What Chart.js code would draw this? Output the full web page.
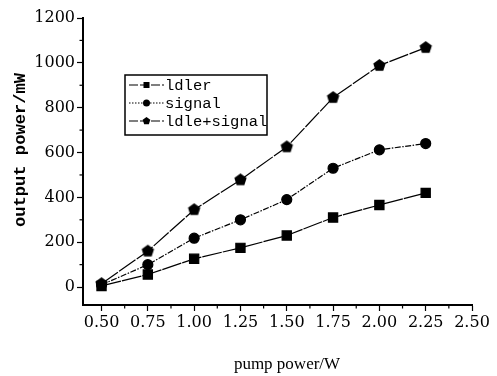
<!DOCTYPE html>
<html><head><meta charset="utf-8">
<script src="https://cdn.jsdelivr.net/npm/chart.js@4/dist/chart.umd.min.js"></script>
<style>html,body{margin:0;padding:0;background:#fff;}canvas{display:block;}</style>
</head><body>
<canvas id="c" width="497" height="376"></canvas>
<script>
const pumpPower = [0.50, 0.75, 1.00, 1.25, 1.50, 1.75, 2.00, 2.25];
const idler = [5, 56, 126, 175, 230, 310, 366, 420];
const signal = [10, 100, 218, 300, 390, 530, 612, 640];
const idleSignal = [15, 160, 345, 478, 625, 845, 988, 1068];
const seriesNames = ['ldler', 'signal', 'ldle+signal'];
const xTitle = 'pump power/W';
const yTitle = 'output power/mW';

function pentagon(r) {
  const c = document.createElement('canvas');
  const s = Math.ceil(r * 2 + 2);
  c.width = s; c.height = s;
  const g = c.getContext('2d');
  g.fillStyle = '#000';
  g.beginPath();
  for (let i = 0; i < 5; i++) {
    const a = -Math.PI / 2 + i * 2 * Math.PI / 5;
    const px = s / 2 + r * Math.cos(a), py = s / 2 + r * Math.sin(a);
    i ? g.lineTo(px, py) : g.moveTo(px, py);
  }
  g.closePath(); g.fill();
  return c;
}
const pentBig = pentagon(6.5);

const pts = arr => pumpPower.map((x, i) => ({x, y: arr[i]}));

const decor = {
  id: 'decor',
  afterDraw(chart) {
    const ctx = chart.ctx, xs = chart.scales.x, ys = chart.scales.y;
    ctx.save();
    ctx.strokeStyle = '#000'; ctx.lineWidth = 1.2;
    for (let v = 100; v < 1200; v += 200) {
      const py = ys.getPixelForValue(v);
      ctx.beginPath(); ctx.moveTo(xs.left - 3.5, py); ctx.lineTo(xs.left, py); ctx.stroke();
    }
    for (let v = 0.625; v < 2.5; v += 0.25) {
      const px = xs.getPixelForValue(v);
      ctx.beginPath(); ctx.moveTo(px, ys.bottom); ctx.lineTo(px, ys.bottom + 3.5); ctx.stroke();
    }
    ctx.fillStyle = '#000';
    ctx.font = '17px "Liberation Serif"';
    ctx.textAlign = 'center'; ctx.textBaseline = 'middle';
    ctx.fillText(xTitle, 287, 365);
    ctx.save();
    ctx.translate(21, 150); ctx.rotate(-Math.PI / 2);
    ctx.font = 'bold 16px "Liberation Mono"';
    const w = ctx.measureText(yTitle).width;
    const fs = 16 * 154 / w;
    ctx.font = 'bold ' + fs.toFixed(2) + 'px "Liberation Mono"';
    ctx.fillText(yTitle, 0, 0);
    ctx.restore();
    const bx = 125, by = 75, bw = 142, bh = 60;
    ctx.fillStyle = '#fff'; ctx.fillRect(bx, by, bw, bh);
    ctx.lineWidth = 1.5; ctx.strokeRect(bx, by, bw, bh);
    const rows = [85, 103, 121];
    const dashes = [[9, 2], [1.5, 1.5], [9, 2]];
    ctx.font = '15.5px "Liberation Mono"';
    ctx.textAlign = 'left';
    rows.forEach((ry, i) => {
      ctx.setLineDash(dashes[i]); ctx.lineWidth = 1.2;
      ctx.beginPath(); ctx.moveTo(129, ry); ctx.lineTo(164, ry); ctx.stroke();
      ctx.setLineDash([]);
      ctx.fillStyle = '#000';
      ctx.beginPath();
      if (i === 0) ctx.rect(143.5, ry - 3, 6, 6);
      else if (i === 1) ctx.arc(146.5, ry, 3.5, 0, Math.PI * 2);
      else {
        for (let k = 0; k < 5; k++) {
          const a = -Math.PI / 2 + k * 2 * Math.PI / 5;
          const px = 146.5 + 4 * Math.cos(a), py = ry + 4 * Math.sin(a);
          k ? ctx.lineTo(px, py) : ctx.moveTo(px, py);
        }
        ctx.closePath();
      }
      ctx.fill();
      ctx.fillText(seriesNames[i], 165, ry + 1);
    });
    ctx.restore();
  }
};

new Chart(document.getElementById('c'), {
  type: 'line',
  data: {
    datasets: [
      {label: seriesNames[0], data: pts(idler), borderColor: '#000', backgroundColor: '#000', borderWidth: 1.2,
       pointStyle: 'rect', pointRadius: 6.5, borderDash: [20, 1]},
      {label: seriesNames[1], data: pts(signal), borderColor: '#000', backgroundColor: '#000', borderWidth: 1.2,
       pointStyle: 'circle', pointRadius: 5, borderDash: [6, 1.5, 1.5, 1.5]},
      {label: seriesNames[2], data: pts(idleSignal), borderColor: '#000', backgroundColor: '#000', borderWidth: 1.2,
       pointStyle: pentBig, borderDash: [20, 1.5]}
    ]
  },
  options: {
    responsive: false, animation: false, devicePixelRatio: 1,
    layout: {padding: {top: 18, right: 25, left: 0, bottom: 0}},
    plugins: {legend: {display: false}, tooltip: {enabled: false}},
    scales: {
      x: {
        type: 'linear', min: 0.4, max: 2.5,
        afterFit(s) { s.height = 71; },
        border: {color: '#000', width: 2},
        grid: {drawOnChartArea: false, tickLength: 6, tickColor: '#000', tickWidth: 1.2},
        ticks: {stepSize: 0.25, includeBounds: false, color: '#000', padding: 2, maxRotation: 0,
                font: {family: 'DejaVu Serif', size: 16},
                callback: v => Number(v).toFixed(2)}
      },
      y: {
        min: -80, max: 1200,
        afterFit(s) { s.width = 83; },
        border: {color: '#000', width: 2},
        grid: {drawOnChartArea: false, tickLength: 6, tickColor: '#000', tickWidth: 1.2},
        ticks: {stepSize: 200, includeBounds: false, color: '#000', padding: 2,
                font: {family: 'DejaVu Serif', size: 16},
                callback: v => String(v)}
      }
    }
  },
  plugins: [decor]
});
</script>
</body></html>
